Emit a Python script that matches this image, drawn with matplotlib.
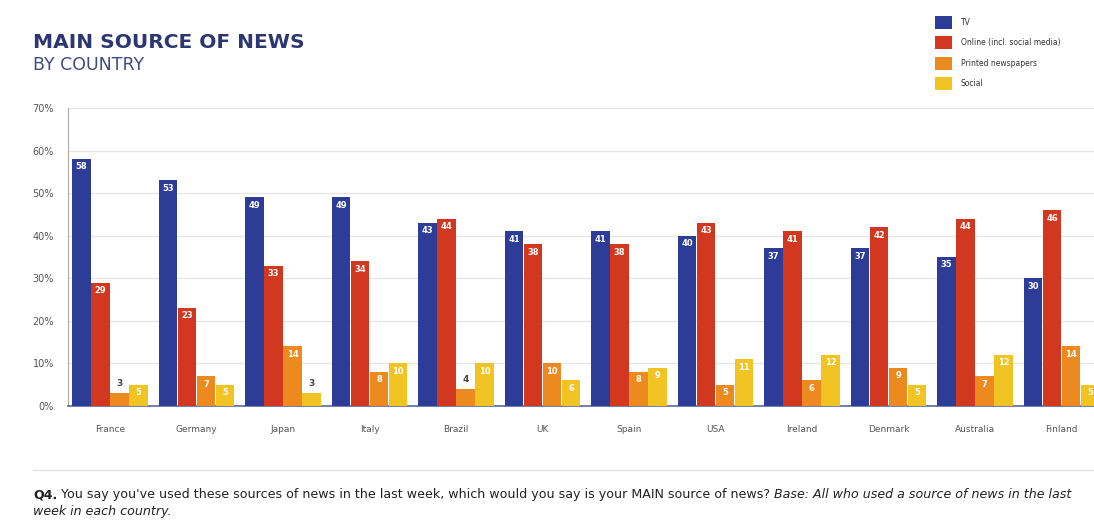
import numpy as np
import matplotlib
matplotlib.use("Agg")
import matplotlib.pyplot as plt

# data
countries = ['France', 'Germany', 'Japan', 'Italy', 'Brazil', 'UK', 'Spain',
             'USA', 'Ireland', 'Denmark', 'Australia', 'Finland']
tv = [58, 53, 49, 49, 43, 41, 41, 40, 37, 37, 35, 30]
online = [29, 23, 33, 34, 44, 38, 38, 43, 41, 42, 44, 46]
printed = [3, 7, 14, 8, 4, 10, 8, 5, 6, 9, 7, 14]
social = [5, 5, 3, 10, 10, 6, 9, 11, 12, 5, 12, 5]
series_names = ['TV', 'Online (incl. social media)', 'Printed newspapers', 'Social']
y_ticks = [0, 10, 20, 30, 40, 50, 60, 70]

colors = ['#2d3c97', '#d23820', '#ec8a20', '#f1c323']

plt.rcParams['font.family'] = ['DejaVu Sans']

fig = plt.figure(figsize=(10.94, 5.22), dpi=100)
ax = fig.add_axes([68 / 1094, 1 - 406 / 522, 1 - 68 / 1094, (406 - 108) / 522])

x = np.arange(len(countries))
w = 0.22
handles = []
for k, (vals, col) in enumerate(zip([tv, online, printed, social], colors)):
    pos = x + (k - 1.5) * w
    bars = ax.bar(pos, vals, width=w * 0.97, color=col, zorder=3)
    handles.append(bars)
    for p, v in zip(pos, vals):
        if v < 5:
            ax.text(p, v + 1.2, str(v), ha='center', va='bottom', fontsize=6.5,
                    color='#444444', fontweight='bold', zorder=4)
        else:
            ax.text(p, v - 0.8, str(v), ha='center', va='top', fontsize=6,
                    color='white', fontweight='bold', zorder=4)

ax.set_xlim(-0.486, 11.376)
ax.set_ylim(0, 70)
ax.set_yticks(y_ticks)
ax.set_yticklabels([f'{t}%' for t in y_ticks])
ax.set_xticks(x)
ax.set_xticklabels(countries)
ax.tick_params(axis='both', length=0, labelsize=6.5, colors='#555555')
ax.tick_params(axis='y', labelsize=7)
ax.tick_params(axis='x', pad=14)
ax.tick_params(axis='y', pad=10)
ax.grid(axis='y', color='#e6e6e6', linewidth=1, zorder=0)
for s in ['top', 'right']:
    ax.spines[s].set_visible(False)
ax.spines['left'].set_color('#aaaaaa')
ax.spines['bottom'].set_color('#5a6a9a')
ax.spines['bottom'].set_linewidth(1.2)

# title
fig.text(33 / 1094, 1 - 48 / 522, 'MAIN SOURCE OF NEWS', fontsize=14.5,
         fontweight='bold', color='#2b3672', ha='left', va='baseline')
fig.text(33 / 1094, 1 - 70 / 522, 'BY COUNTRY', fontsize=12.5,
         color='#3f4a80', ha='left', va='baseline')

# legend
fig.legend(handles, series_names, loc='upper left',
           bbox_to_anchor=(928 / 1094, 1 - 9 / 522), frameon=False,
           fontsize=5.5, handlelength=2.2, handleheight=2.2,
           labelspacing=1.0, handletextpad=1.2, labelcolor='#333333')

# separator
fig.add_artist(plt.Line2D([33 / 1094, 1], [1 - 470 / 522, 1 - 470 / 522],
                          color='#e3e3e3', linewidth=1))

# footnote
fs = 9.1
t1 = fig.text(33 / 1094, 1 - 498 / 522, 'Q4.', fontsize=fs, fontweight='bold',
              color='#222222', va='baseline')
t2 = plt.annotate(" You say you've used these sources of news in the last week, which would you say is your MAIN source of news? ",
                  xy=(1, 0), xycoords=t1, fontsize=fs, color='#222222',
                  va='bottom', ha='left', annotation_clip=False)
t3 = plt.annotate('Base: All who used a source of news in the last',
                  xy=(1, 0), xycoords=t2, fontsize=fs, color='#222222',
                  style='italic', va='bottom', ha='left',
                  annotation_clip=False)
fig.text(33 / 1094, 1 - 515 / 522, 'week in each country.', fontsize=fs,
         color='#222222', style='italic', va='baseline')

fig.savefig('out.png', dpi=100)
